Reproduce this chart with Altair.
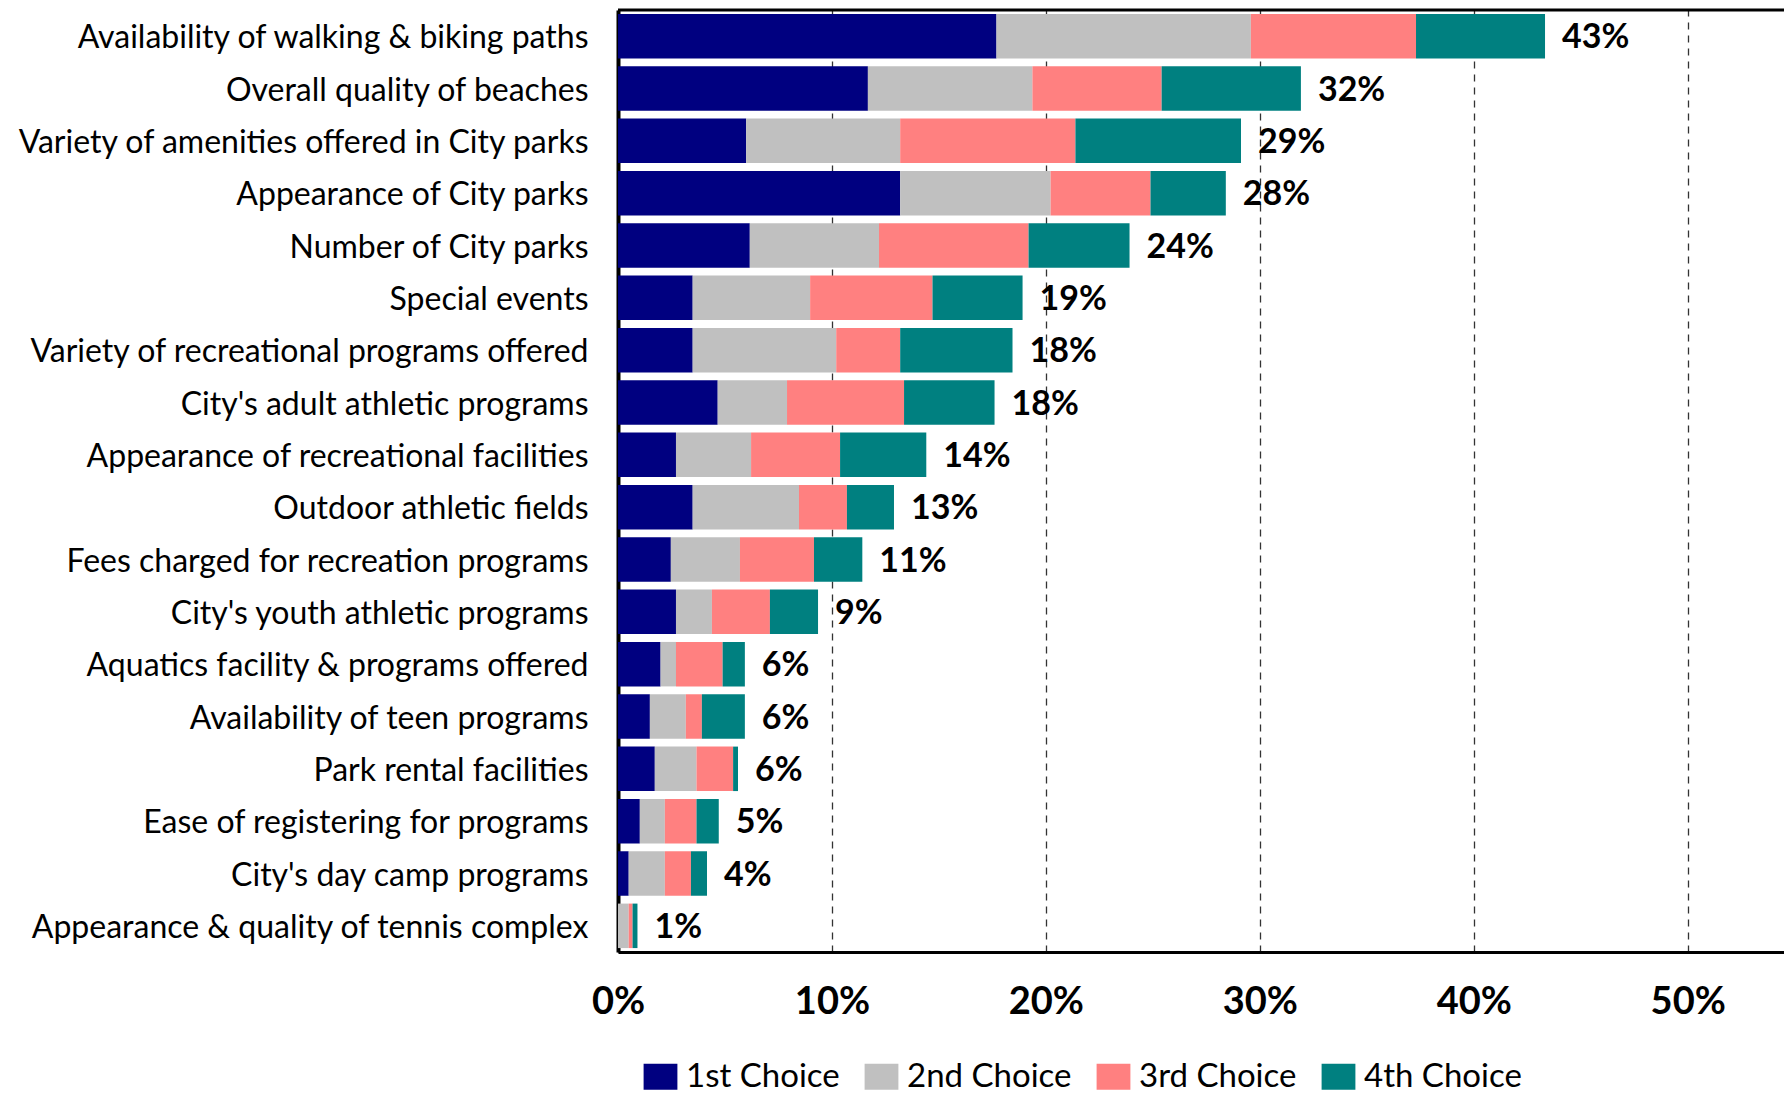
import altair as alt
import pandas as pd

categories = [
    "Availability of walking & biking paths",
    "Overall quality of beaches",
    "Variety of amenities offered in City parks",
    "Appearance of City parks",
    "Number of City parks",
    "Special events",
    "Variety of recreational programs offered",
    "City's adult athletic programs",
    "Appearance of recreational facilities",
    "Outdoor athletic fields",
    "Fees charged for recreation programs",
    "City's youth athletic programs",
    "Aquatics facility & programs offered",
    "Availability of teen programs",
    "Park rental facilities",
    "Ease of registering for programs",
    "City's day camp programs",
    "Appearance & quality of tennis complex",
]
choices = ["1st Choice", "2nd Choice", "3rd Choice", "4th Choice"]
first = [17.69, 11.68, 5.99, 13.19, 6.16, 3.49, 3.49, 4.66, 2.71, 3.49, 2.47, 2.71, 1.99, 1.49, 1.72, 1.02, 0.50, 0.00]
second = [11.89, 7.69, 7.20, 7.03, 6.04, 5.49, 6.71, 3.24, 3.51, 4.97, 3.23, 1.68, 0.72, 1.68, 1.95, 1.17, 1.69, 0.50]
third = [7.72, 6.04, 8.19, 4.67, 6.99, 5.72, 2.99, 5.47, 4.16, 2.24, 3.46, 2.71, 2.18, 0.75, 1.71, 1.48, 1.22, 0.18]
fourth = [6.03, 6.51, 7.74, 3.52, 4.72, 4.21, 5.25, 4.23, 4.03, 2.20, 2.26, 2.25, 1.04, 2.01, 0.23, 1.04, 0.75, 0.23]
colors = ["#000080", "#C0C0C0", "#FF8080", "#008080"]
tick_values = [0, 10, 20, 30, 40, 50]

rows = []
for i, c in enumerate(categories):
    for k, vals in enumerate([first, second, third, fourth]):
        rows.append({"item": c, "choice": choices[k], "order": k, "value": vals[i]})
df = pd.DataFrame(rows)

totals = [a + b + c + d for a, b, c, d in zip(first, second, third, fourth)]
tdf = pd.DataFrame({"item": categories, "total": totals,
                    "label": [f"{int(round(t))}%" for t in totals]})

W, H = 1166, 942
FONT = "Lato"

y_enc = alt.Y(
    "item:N", sort=categories, title=None,
    scale=alt.Scale(paddingInner=0.15, paddingOuter=0.075),
    axis=alt.Axis(labelFont=FONT, labelFontSize=32, labelColor="black",
                  labelPadding=30, labelOffset=2, ticks=False, domainColor="black",
                  domainWidth=4, labelLimit=800),
)
x_enc = alt.X(
    "value:Q", stack="zero", title=None,
    scale=alt.Scale(domain=[0, 54.5], nice=False),
    axis=alt.Axis(values=tick_values, labelExpr="datum.value + '%'", grid=True,
                  gridDash=[7, 6], gridColor="#333333", gridWidth=1.3, ticks=False,
                  domainColor="black", domainWidth=3, labelFont=FONT,
                  labelFontWeight="bold", labelFontSize=38, labelColor="black",
                  labelPadding=31, labelFlush=False),
)

bars = alt.Chart(df).mark_bar().encode(
    x=x_enc,
    y=y_enc,
    color=alt.Color(
        "choice:N", scale=alt.Scale(domain=choices, range=colors),
        legend=alt.Legend(
            title=None, orient="none", legendX=26, legendY=1050,
            direction="horizontal",
            symbolType="M-1.3,-1H1.3V1H-1.3Z", symbolSize=676,
            symbolStrokeWidth=0, symbolOpacity=1,
            labelFont=FONT, labelFontSize=33, labelColor="black",
            labelOffset=9, columnPadding=24, labelLimit=400,
        ),
    ),
    order=alt.Order("order:Q"),
)

labels = alt.Chart(tdf).mark_text(
    align="left", baseline="middle", dx=17, dy=2, font=FONT, fontWeight="bold",
    fontSize=34, color="black",
).encode(
    x=alt.X("total:Q"),
    y=alt.Y("item:N", sort=categories),
    text="label:N",
)

top_line = alt.Chart(pd.DataFrame({"a": [0]})).mark_rule(
    color="black", strokeWidth=3
).encode(x=alt.value(0), x2=alt.value(W), y=alt.value(0))

chart = alt.layer(bars, labels, top_line).properties(
    width=W, height=H,
    autosize=alt.AutoSizeParams(type="none"),
    padding={"left": 610, "top": 2, "right": 0, "bottom": 141},
).configure_view(stroke=None).configure(background="white")

chart.save("out.html", embed_options={"renderer": "svg", "actions": False})
